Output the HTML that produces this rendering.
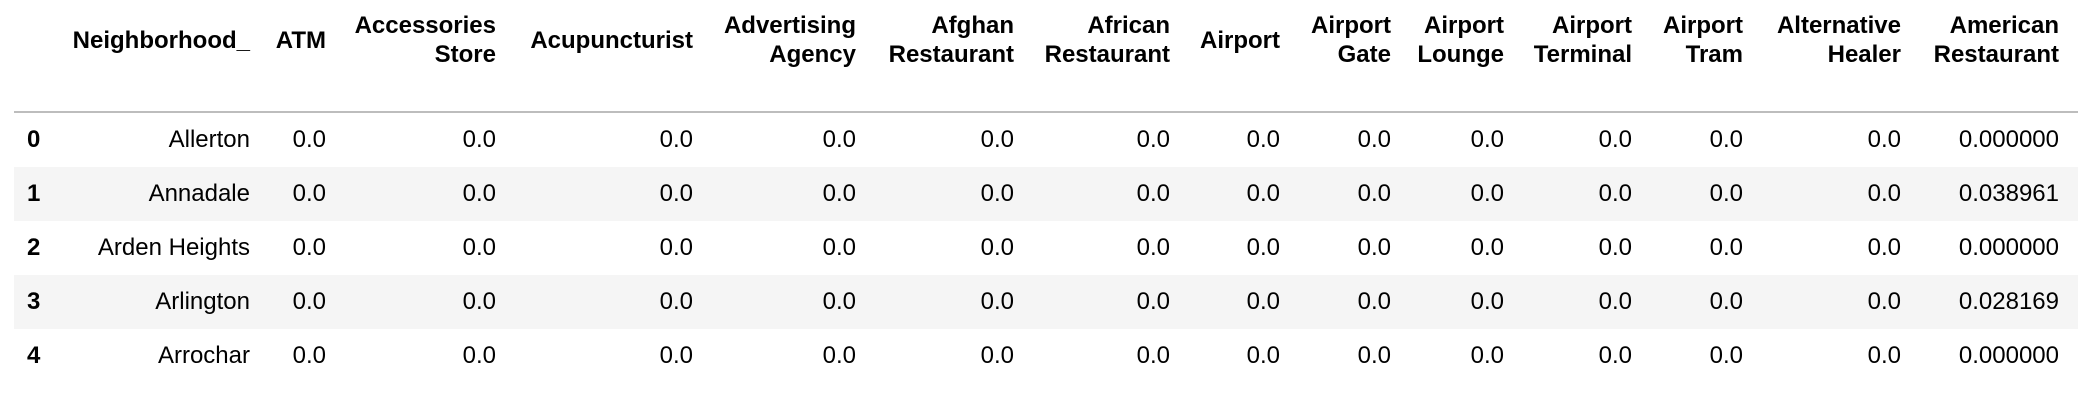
<!DOCTYPE html>
<html><head><meta charset="utf-8"><style>
html,body{margin:0;padding:0;background:#fff;width:2078px;height:412px;overflow:hidden;font-family:"Liberation Sans",sans-serif;color:#000}
.c{position:absolute;white-space:nowrap;font-size:24px;line-height:29px}
.h{font-weight:bold;text-align:right}
.r{text-align:right}
.band{position:absolute;left:14px;width:2064px;height:54px}
</style></head><body>
<div id="t" style="position:absolute;left:0;top:0;width:2078px;height:412px"></div>
<div style="position:absolute;left:14px;top:111px;width:2064px;height:2px;background:#bdbdbd"></div>
<script>
const headers=[["Neighborhood_"],["ATM"],["Accessories","Store"],["Acupuncturist"],["Advertising","Agency"],["Afghan","Restaurant"],["African","Restaurant"],["Airport"],["Airport","Gate"],["Airport","Lounge"],["Airport","Terminal"],["Airport","Tram"],["Alternative","Healer"],["American","Restaurant"]];
const rightEdges=[250,326,496,693,856,1014,1170,1280,1391,1504,1632,1743,1901,2059];
const index=["0","1","2","3","4"];
const neighborhoods=["Allerton","Annadale","Arden Heights","Arlington","Arrochar"];
const american=["0.000000","0.038961","0.000000","0.028169","0.000000"];
const t=document.getElementById('t');
for(let i=0;i<5;i++){
  const top=113+i*54;
  if(i%2===1){const b=document.createElement('div');b.className='band';b.style.top=top+'px';b.style.background='#f5f5f5';
  
  
  t.appendChild(b);}
}
headers.forEach((h,j)=>{
  const d=document.createElement('div');d.className='c h';
  d.style.right=(2078-rightEdges[j])+'px';
  d.style.top=(h.length===1?26:11)+'px';
  d.innerHTML=h.join('<br>');
  
  
  t.appendChild(d);
});
for(let i=0;i<5;i++){
  const y=113+i*54+12;
  const ix=document.createElement('div');ix.className='c';ix.style.fontWeight='bold';ix.style.left='27px';ix.style.top=y+'px';ix.textContent=index[i];
  
  
  t.appendChild(ix);
  for(let j=0;j<rightEdges.length;j++){
    const d=document.createElement('div');d.className='c r';
    d.style.right=(2078-rightEdges[j])+'px';d.style.top=y+'px';
    d.textContent=j===0?neighborhoods[i]:(j===13?american[i]:"0.0");
    
    
    t.appendChild(d);
  }
}
</script>
</body></html>
